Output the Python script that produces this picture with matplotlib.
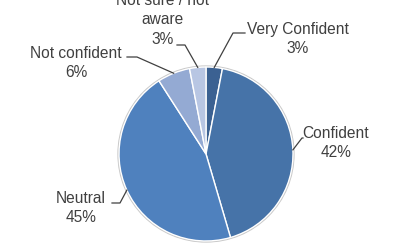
import numpy as np
import matplotlib.pyplot as plt
from matplotlib.patches import Circle

# survey answers, clockwise from 12 o'clock
labels = ["Very Confident", "Confident", "Neutral", "Not confident", "Not sure / not\naware"]
shares = [3, 42, 45, 6, 3]
colors = ["#3b6192", "#4673a8", "#4f81be", "#94aad3", "#b8c6e3"]

# where the text sits (pixel coords, y down) and the elbow of each leader line
text_pos = [(298, 39), (336, 143), (81, 208), (76, 63), (163, 20)]
elbows = [((233, 33), (245, 33)), ((302, 138), (303, 138)), ((120, 203), (112, 203)),
          ((137, 57), (127, 57)), ((185, 45), (177, 45))]

W, H = 400, 250
cx, cy, r = 206, H - 154, 87

plt.rcParams["font.family"] = ["Liberation Sans", "DejaVu Sans"]

fig = plt.figure(figsize=(4, 2.5), dpi=100)
ax = fig.add_axes([0, 0, 1, 1])

wedges, _ = ax.pie(shares, colors=colors, startangle=90, counterclock=False,
                   center=(cx, cy), radius=r,
                   wedgeprops=dict(edgecolor="white", linewidth=1))
ax.add_patch(Circle((cx, cy), r + 0.8, fill=False, edgecolor="#c8c8c8", linewidth=1.2, zorder=0))

for w, lab, pct, tp, (e1, e2) in zip(wedges, labels, shares, text_pos, elbows):
    ang = np.deg2rad((w.theta1 + w.theta2) / 2)
    x0, y0 = cx + r * np.cos(ang), cy + r * np.sin(ang)
    xs = [x0, e1[0], e2[0]]
    ys = [y0, H - e1[1], H - e2[1]]
    ax.plot(xs, ys, color="#404040", linewidth=0.9)
    ax.text(tp[0], H - tp[1], f"{lab}\n{pct}%", ha="center", va="center",
            fontsize=11.2, color="#404040", linespacing=1.4)

ax.set_xlim(0, W)
ax.set_ylim(0, H)
ax.set_aspect("equal")
ax.axis("off")

fig.savefig("out.png", dpi=100, facecolor="white")
